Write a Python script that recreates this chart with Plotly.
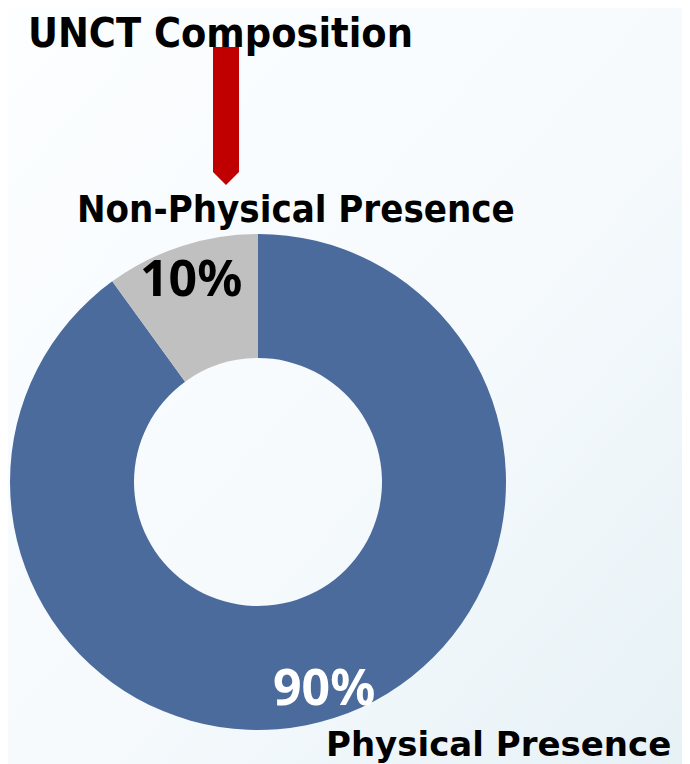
import base64
import plotly.graph_objects as go

# ---- data ----
categories = ["Physical Presence", "Non-Physical Presence"]
values = [90, 10]
slice_colors = ["#4A6B9B", "#C0C0C0"]
title_text = "UNCT Composition"

# page has an 8px body margin; the figure is sized to fit the window
OFF = 8
W, H = 690 - OFF, 764 - OFF

def px(x):
    return (x - OFF) / W

def py(y):
    return 1 - (y - OFF) / H

total = sum(values)
pct = [f"{round(v / total * 100)}%" for v in values]

fig = go.Figure()
fig.add_trace(go.Pie(
    labels=categories,
    values=values,
    hole=0.5,
    sort=False,
    direction="clockwise",
    rotation=0,
    marker=dict(colors=slice_colors, line=dict(width=0)),
    textinfo="none",
    hoverinfo="label+percent",
    showlegend=False,
    domain=dict(x=[px(10), px(506)], y=[py(730), py(234)]),
))

# gradient background
svg = (
    f'<svg xmlns="http://www.w3.org/2000/svg" width="{W}" height="{H}">'
    '<defs><linearGradient id="g" x1="0" y1="0" x2="1" y2="1">'
    '<stop offset="0" stop-color="#FCFEFF"/>'
    '<stop offset="0.55" stop-color="#F6FAFD"/>'
    '<stop offset="1" stop-color="#E6F1F6"/>'
    '</linearGradient></defs>'
    f'<rect width="{W}" height="{H}" fill="url(#g)"/></svg>'
)
src = "data:image/svg+xml;base64," + base64.b64encode(svg.encode()).decode()

narrow = "DejaVu Sans Condensed, Liberation Sans Narrow, sans-serif"
bold = "DejaVu Sans, Liberation Sans, sans-serif"
pctfont = "Noto Sans, Open Sans, sans-serif"

annotations = [
    dict(text=f"<b>{title_text}</b>", x=px(27), y=1, xanchor="left", yanchor="top",
         borderpad=0, font=dict(family=narrow, size=41, color="#000000")),
    dict(text=f"<b>{categories[1]}</b>", x=px(296), y=py(209), xanchor="center", yanchor="middle",
         font=dict(family=narrow, size=38, color="#000000")),
    dict(text=f"<b>{categories[0]}</b>", x=px(498), y=py(744), xanchor="center", yanchor="middle",
         font=dict(family=bold, size=34, color="#000000")),
    dict(text=f"<b>{pct[1]}</b>", x=px(191), y=py(277), xanchor="center", yanchor="middle",
         font=dict(family=pctfont, size=50, color="#000000")),
    dict(text=f"<b>{pct[0]}</b>", x=px(324), y=py(686), xanchor="center", yanchor="middle",
         font=dict(family=pctfont, size=50, color="#FFFFFF")),
]
for a in annotations:
    a.update(xref="paper", yref="paper", showarrow=False)

# red down arrow
arrow_path = (f"M {px(213)},{py(47)} L {px(239)},{py(47)} L {px(239)},{py(172)} "
              f"L {px(226)},{py(185)} L {px(213)},{py(172)} Z")

fig.update_layout(
    width=W, height=H,
    margin=dict(l=0, r=0, t=0, b=0),
    paper_bgcolor="#F7FBFD",
    plot_bgcolor="rgba(0,0,0,0)",
    images=[dict(source=src, xref="paper", yref="paper", x=0, y=1, sizex=1, sizey=1,
                 sizing="stretch", xanchor="left", yanchor="top", layer="below")],
    annotations=annotations,
    shapes=[dict(type="path", path=arrow_path, xref="paper", yref="paper",
                 fillcolor="#C00000", line=dict(width=0))],
)

fig.write_html("out.html")
